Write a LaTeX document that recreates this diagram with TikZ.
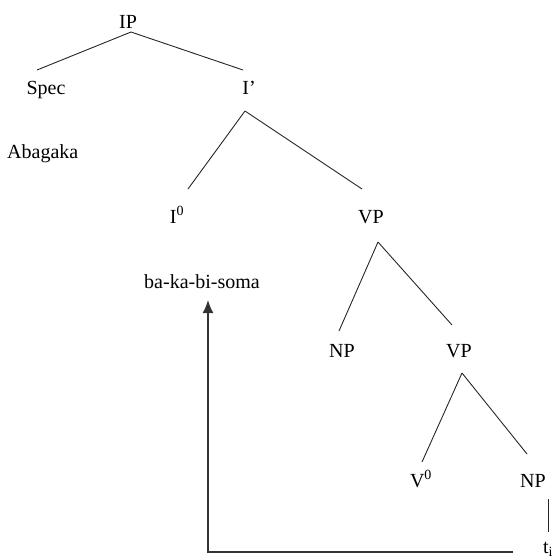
\documentclass[tikz,border=0pt]{standalone}
\usepackage{fontspec}
\setmainfont{Liberation Serif}
\usetikzlibrary{arrows.meta}
\begin{document}
\begin{tikzpicture}[x=1pt,y=-1pt,
  lbl/.style={anchor=base,inner sep=0pt,font=\fontsize{20}{22}\selectfont},
  branch/.style={draw=black!85,line width=0.9pt},
  movearrow/.style={draw=black!80,line width=1.6pt,-{Latex[length=13pt,width=11pt]}}]
\useasboundingbox (0,0) rectangle (553,558);
% labels
\node[lbl] (IP) at (128,28) {IP};
\node[lbl] (Spec) at (46,94) {Spec};
\node[lbl] (Ibar) at (249,94) {I’};
\node[lbl,anchor=base west] (Abagaka) at (7,158) {Abagaka};
\node[lbl] (I0) at (177,223) {I\textsuperscript{0}};
\node[lbl] (VP1) at (371,223) {VP};
\node[lbl] (soma) at (202,288) {ba-ka-bi-soma};
\node[lbl] (NP1) at (342,357) {NP};
\node[lbl] (VP2) at (459,357) {VP};
\node[lbl] (V0) at (421,487) {V\textsuperscript{0}};
\node[lbl] (NP2) at (533,487) {NP};
\node[lbl] (ti) at (548,553) {t\textsubscript{i}};
% branch end points
\coordinate (ipA) at (131,32);
\coordinate (specT) at (37,70);
\coordinate (ibarT) at (243,70);
\coordinate (ibarA) at (245,111);
\coordinate (i0T) at (188,189);
\coordinate (vp1T) at (362,189);
\coordinate (vp1A) at (378,242);
\coordinate (np1T) at (339,331);
\coordinate (vp2T) at (452,325);
\coordinate (vp2A) at (462,373);
\coordinate (v0T) at (422,462);
\coordinate (np2T) at (527,454);
\coordinate (np2B) at (548,499);
\coordinate (tiT) at (548,532);
\coordinate (traceEnd) at (513,552);
\coordinate (corner) at (208,552);
\coordinate (tip) at (208,300);
% branches
\draw[branch] (ipA) -- (specT);
\draw[branch] (ipA) -- (ibarT);
\draw[branch] (ibarA) -- (i0T);
\draw[branch] (ibarA) -- (vp1T);
\draw[branch] (vp1A) -- (np1T);
\draw[branch] (vp1A) -- (vp2T);
\draw[branch] (vp2A) -- (v0T);
\draw[branch] (vp2A) -- (np2T);
\draw[branch] (np2B) -- (tiT);
% movement arrow
\draw[movearrow] (traceEnd) -- (corner) -- (tip);
\end{tikzpicture}
\end{document}
